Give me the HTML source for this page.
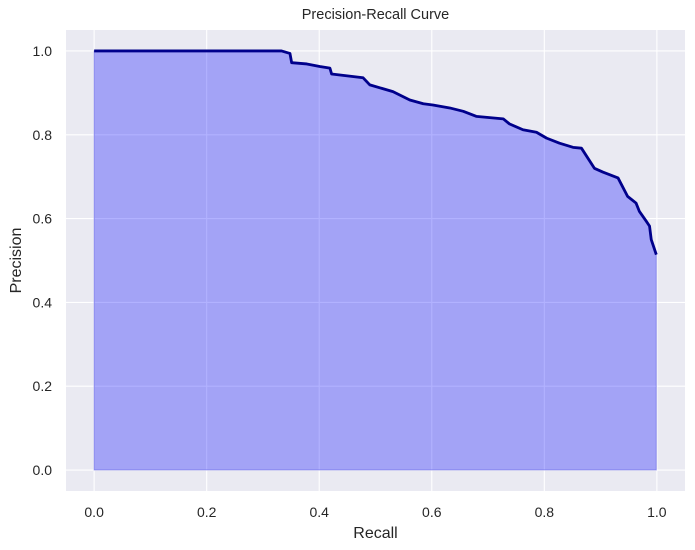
<!DOCTYPE html>
<html><head><meta charset="utf-8"><style>
body{margin:0;background:#fff;}
svg{display:block;font-family:"Liberation Sans","DejaVu Sans",sans-serif;}
</style></head><body>
<svg id="chart" width="695" height="550" viewBox="0 0 695 550" xmlns="http://www.w3.org/2000/svg"></svg>
<script>
const recall=[0,0.333,0.348,0.351,0.378,0.401,0.419,0.422,0.478,0.490,0.531,0.561,0.585,0.602,0.632,0.656,0.679,0.727,0.738,0.762,0.786,0.804,0.827,0.851,0.866,0.889,0.904,0.931,0.948,0.963,0.969,0.981,0.987,0.990,0.999];
const precision=[1,1,0.994,0.972,0.969,0.963,0.959,0.945,0.936,0.919,0.903,0.883,0.874,0.871,0.864,0.856,0.844,0.838,0.826,0.812,0.806,0.792,0.780,0.770,0.768,0.720,0.711,0.697,0.653,0.637,0.617,0.594,0.582,0.550,0.514];
const xTicks=[0,0.2,0.4,0.6,0.8,1.0];
const yTicks=[0,0.2,0.4,0.6,0.8,1.0];
const tickLabels=["0.0","0.2","0.4","0.6","0.8","1.0"];

const L=66,R=685,T=30,B=491;
const X=v=>L+(v+0.05)/1.1*(R-L);
const Y=v=>B-(v+0.05)/1.1*(B-T);
const svg=document.getElementById('chart');
const NS="http://www.w3.org/2000/svg";
function mk(tag,attrs,parent){const e=document.createElementNS(NS,tag);for(const k in attrs)e.setAttribute(k,attrs[k]);(parent||svg).appendChild(e);return e;}

const bg=mk('rect',{x:L,y:T,width:R-L,height:B-T,fill:'#eaeaf2'});



xTicks.forEach((v,i)=>{
  const g=mk('line',{x1:X(v),x2:X(v),y1:T,y2:B,stroke:'#fff','stroke-width':1.1});
  
  
  const t=mk('text',{x:X(v),y:517,'text-anchor':'middle','font-size':14,fill:'#262626'});
  t.textContent=tickLabels[i];
  
  
});
yTicks.forEach((v,i)=>{
  const g=mk('line',{x1:L,x2:R,y1:Y(v),y2:Y(v),stroke:'#fff','stroke-width':1.1});
  
  
  const t=mk('text',{x:52,y:Y(v)+5,'text-anchor':'end','font-size':14,fill:'#262626'});
  t.textContent=tickLabels[i];
  
  
});

let line='M'+X(recall[0])+','+Y(precision[0]);
for(let i=1;i<recall.length;i++){
  line+=' L'+X(recall[i])+','+Y(precision[i]);
}
const d='M'+X(recall[0])+','+Y(0)+' L'+line.slice(1)+' L'+X(recall[recall.length-1])+','+Y(0)+' Z';
const area=mk('path',{d:d,fill:'rgba(0,0,255,0.3)',stroke:'rgba(0,0,200,0.3)','stroke-width':1});


const pr=mk('path',{d:line,fill:'none',stroke:'#00008b','stroke-width':2.8,'stroke-linejoin':'round'});



const title=mk('text',{x:(L+R)/2,y:19,'text-anchor':'middle','font-size':14.5,fill:'#262626'});
title.textContent='Precision-Recall Curve';


const xl=mk('text',{x:(L+R)/2,y:538,'text-anchor':'middle','font-size':16,fill:'#262626'});
xl.textContent='Recall';


const yl=mk('text',{x:21,y:(T+B)/2,'text-anchor':'middle','font-size':16,fill:'#262626',transform:'rotate(-90 21 '+((T+B)/2)+')'});
yl.textContent='Precision';


</script>
</body></html>
